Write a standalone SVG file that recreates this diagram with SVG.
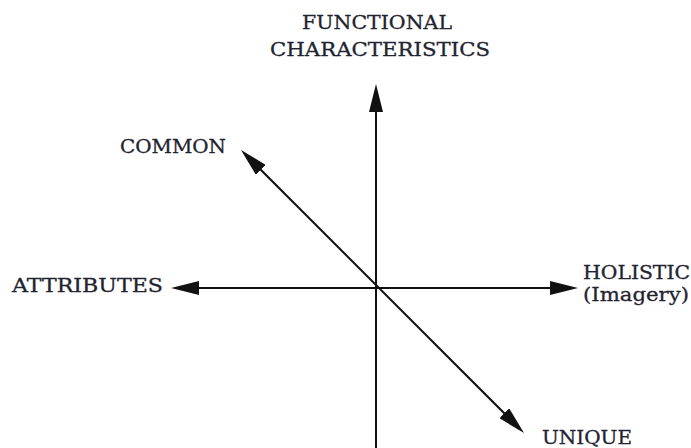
<svg xmlns="http://www.w3.org/2000/svg" width="691" height="448" viewBox="0 0 691 448">
<style>
text{font-family:"DejaVu Serif","Liberation Serif",serif;font-size:19px;fill:#1f2430;stroke:#1f2430;stroke-width:0.3}
.ax{stroke:#111;stroke-width:2;fill:none}
</style>
<defs>
<marker id="ah" markerUnits="userSpaceOnUse" markerWidth="28" markerHeight="14" refX="18" refY="7" orient="auto-start-reverse" viewBox="0 0 28 14">
<path d="M0,0 L28,7 L0,14 z" fill="#111"/>
</marker>
</defs>
<rect width="691" height="448" fill="#fff"/>
<g id="connectors">
<line class="ax" x1="376" y1="448" x2="376" y2="94" marker-end="url(#ah)"/>
<line class="ax" x1="181" y1="288" x2="568" y2="288" marker-start="url(#ah)" marker-end="url(#ah)"/>
<line class="ax" x1="248.07" y1="157.07" x2="516.93" y2="425.93" marker-start="url(#ah)" marker-end="url(#ah)"/>
</g>
<g id="functional">
<text x="302" y="29" textLength="150" lengthAdjust="spacingAndGlyphs">FUNCTIONAL</text>
<text x="270" y="56" textLength="220" lengthAdjust="spacingAndGlyphs">CHARACTERISTICS</text>
</g>
<g id="common"><text x="120" y="153" textLength="106" lengthAdjust="spacingAndGlyphs">COMMON</text></g>
<g id="attributes"><text x="12" y="292" textLength="151" lengthAdjust="spacingAndGlyphs">ATTRIBUTES</text></g>
<g id="holistic">
<text x="583" y="279" textLength="107" lengthAdjust="spacingAndGlyphs">HOLISTIC</text>
<text x="583" y="301" textLength="106" lengthAdjust="spacingAndGlyphs">(Imagery)</text>
</g>
<g id="unique"><text x="542" y="444" textLength="90" lengthAdjust="spacingAndGlyphs">UNIQUE</text></g>
</svg>
